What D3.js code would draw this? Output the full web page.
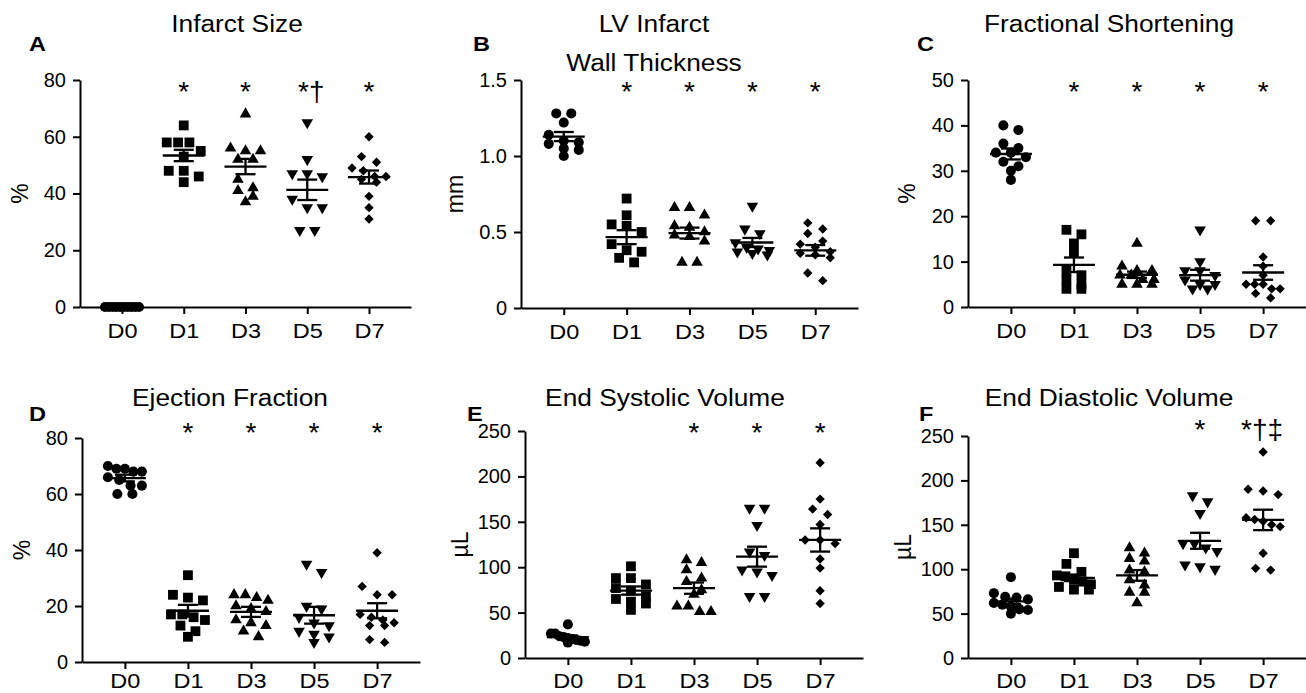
<!DOCTYPE html>
<html>
<head>
<meta charset="utf-8">
<script src="https://cdn.jsdelivr.net/npm/d3@7"></script>
<style>
  body { margin: 0; background: #fff; }
  svg text { font-family: "Liberation Sans", Arial, Helvetica, sans-serif; fill: #000; }
</style>
</head>
<body>
<svg id="chart" width="1306" height="693"></svg>
<script>
const categories = ['D0', 'D1', 'D3', 'D5', 'D7'];

// A: infarct size (%)
const infarctValues = [
  [0, 0, 0, 0, 0, 0, 0, 0, 0, 0],
  [64, 58, 58, 58, 55, 53, 48, 48, 46, 44],
  [68, 56, 55, 55, 52, 52, 45, 42, 41, 39, 37],
  [65, 52, 47, 47, 46, 38, 35, 35, 27, 27],
  [60, 53, 51, 49, 48, 46, 46, 45, 44, 39, 35, 31],
];
const infarctMean = [0, 53.4, 49.5, 41.3, 45.8];
const infarctSem = [0, 2.0, 2.7, 3.6, 2.3];
const infarctMarks = ['', '*', '*', '*†', '*'];

// B: LV infarct wall thickness (mm)
const wallValues = [
  [1.28, 1.28, 1.22, 1.14, 1.10, 1.09, 1.08, 1.05, 1.04, 1.00],
  [0.72, 0.61, 0.55, 0.54, 0.50, 0.42, 0.38, 0.37, 0.33, 0.30],
  [0.66, 0.66, 0.61, 0.54, 0.53, 0.50, 0.48, 0.47, 0.44, 0.30, 0.30],
  [0.67, 0.52, 0.49, 0.43, 0.40, 0.39, 0.38, 0.37, 0.36, 0.35],
  [0.56, 0.52, 0.49, 0.44, 0.42, 0.40, 0.37, 0.36, 0.35, 0.33, 0.23, 0.18],
];
const wallMean = [1.128, 0.466, 0.493, 0.431, 0.379];
const wallSem = [0.03, 0.046, 0.036, 0.03, 0.035];
const wallMarks = ['', '*', '*', '*', '*'];

// C: fractional shortening (%)
const fsValues = [
  [40, 39, 36, 35, 34, 34, 33, 32, 31, 30, 28],
  [17, 16, 14, 12, 8, 7, 6, 5, 4, 4],
  [14, 9, 8, 8, 7, 7, 6, 6, 5, 5, 5],
  [17, 10, 8, 8, 7, 6, 5, 5, 4, 4],
  [19, 19, 11, 9, 7, 5, 5, 5, 4, 4, 3, 2],
];
const fsMean = [33.7, 9.3, 7.1, 7.0, 7.6];
const fsSem = [1.2, 1.6, 0.7, 1.2, 1.6];
const fsMarks = ['', '*', '*', '*', '*'];

// D: ejection fraction (%)
const efValues = [
  [70, 69, 69, 68, 68, 66, 65, 63, 63, 60, 60],
  [31, 24, 23, 22, 17, 17, 16, 15, 13, 11, 9],
  [24, 24, 23, 22, 20, 19, 18, 15, 14, 13, 11, 9],
  [35, 32, 20, 19, 16, 14, 13, 11, 10, 9, 7],
  [39, 27, 24, 24, 17, 16, 15, 14, 13, 13, 8, 7],
];
const efMean = [65.7, 18.3, 17.9, 16.7, 18.3];
const efSem = [1.2, 2.1, 1.8, 3.0, 2.7];
const efMarks = ['', '*', '*', '*', '*'];

// E: end systolic volume (µL)
const esvValues = [
  [37, 27, 27, 24, 23, 22, 21, 20, 19, 18, 17],
  [101, 88, 88, 81, 77, 74, 68, 65, 62, 60, 53],
  [108, 105, 97, 88, 84, 75, 70, 57, 57, 51, 51],
  [165, 165, 146, 117, 113, 97, 95, 91, 68, 68],
  [215, 175, 164, 158, 147, 130, 130, 126, 109, 99, 74, 60],
];
const esvMean = [23, 74.3, 76.9, 111.6, 130];
const esvSem = [1.8, 4.5, 6.2, 11, 12.8];
const esvMarks = ['', '', '*', '*', '*'];

// F: end diastolic volume (µL)
const edvValues = [
  [91, 73, 69, 68, 66, 62, 60, 58, 55, 54, 50],
  [118, 106, 97, 93, 92, 88, 86, 83, 80, 77, 77],
  [124, 118, 112, 109, 99, 97, 88, 82, 74, 74, 62],
  [183, 176, 163, 129, 129, 124, 120, 105, 103, 100],
  [232, 190, 188, 184, 158, 156, 154, 150, 148, 118, 101, 99],
];
const edvMean = [63.7, 90.3, 93, 132, 155.5];
const edvSem = [3, 3.7, 6, 9, 11.5];
const edvMarks = ['', '', '', '*', '*†‡'];

const fmtInt = d3.format('d');
const fmtWall = (d) => (d === 0 ? '0' : d3.format('.1f')(d));

// layout only: pixel frame for each small multiple
const panels = [
  { letter: 'A', title: ['Infarct Size'], unit: '%', values: infarctValues, mean: infarctMean, sem: infarctSem, marks: infarctMarks,
    ticks: [0, 20, 40, 60, 80], fmt: fmtInt, left: 80, right: 411, top: 80, bottom: 307, titleX: 237, titleY: [32], letterX: 29, letterY: 51, unitX: 20, starY: 101, xPad: 9 },
  { letter: 'B', title: ['LV Infarct', 'Wall Thickness'], unit: 'mm', values: wallValues, mean: wallMean, sem: wallSem, marks: wallMarks,
    ticks: [0, 0.5, 1.0, 1.5], fmt: fmtWall, left: 521, right: 858, top: 80, bottom: 308, titleX: 654, titleY: [32, 71], letterX: 473, letterY: 51, unitX: 455, starY: 101, xPad: 9 },
  { letter: 'C', title: ['Fractional Shortening'], unit: '%', values: fsValues, mean: fsMean, sem: fsSem, marks: fsMarks,
    ticks: [0, 10, 20, 30, 40, 50], fmt: fmtInt, left: 968, right: 1306, top: 80, bottom: 307, titleX: 1109, titleY: [32], letterX: 917, letterY: 51, unitX: 907, starY: 101, xPad: 9 },
  { letter: 'D', title: ['Ejection Fraction'], unit: '%', values: efValues, mean: efMean, sem: efSem, marks: efMarks,
    ticks: [0, 20, 40, 60, 80], fmt: fmtInt, left: 82, right: 420, top: 438, bottom: 662, titleX: 230, titleY: [406], letterX: 29, letterY: 421, unitX: 22, starY: 442, xPad: 4 },
  { letter: 'E', title: ['End Systolic Volume'], unit: 'µL', values: esvValues, mean: esvMean, sem: esvSem, marks: esvMarks,
    ticks: [0, 50, 100, 150, 200, 250], fmt: fmtInt, left: 525, right: 863, top: 431, bottom: 658, titleX: 665, titleY: [406], letterX: 467, letterY: 421, unitX: 460, starY: 442, xPad: 8 },
  { letter: 'F', title: ['End Diastolic Volume'], unit: 'µL', values: edvValues, mean: edvMean, sem: edvSem, marks: edvMarks,
    ticks: [0, 50, 100, 150, 200, 250], fmt: fmtInt, left: 968, right: 1306, top: 436, bottom: 658, titleX: 1109, titleY: [406], letterX: 919, letterY: 421, unitX: 903, starY: 439, xPad: 8 },
];

// the source figure is slightly wider than tall in its lettering
const STRETCH = 1.12;
const markShift = { 1: 0, 2: 4, 3: -1 };

// one marker per day, Prism style: circle, square, triangle, inverted triangle, diamond
const diamond = d3.symbolDiamond2 || d3.symbolDiamond;
const markers = [
  { type: d3.symbolCircle, size: 80, rotate: 0 },
  { type: d3.symbolSquare, size: 96, rotate: 0 },
  { type: d3.symbolTriangle, size: 58, rotate: 0 },
  { type: d3.symbolTriangle, size: 58, rotate: 180 },
  { type: diamond, size: 56, rotate: 0 },
];

const svg = d3.select('#chart');

// Points whose pixel heights are within one marker of each other share a row
// and are spread sideways around the column centre (roughly what Prism does).
function spreadGroup(vals, y, cx) {
  const pts = vals.slice().sort((a, b) => b - a).map((v) => ({ v, py: y(v) }));
  const rows = [];
  pts.forEach((p) => {
    const row = rows[rows.length - 1];
    if (row && p.py - row[0].py < 9) row.push(p);
    else rows.push([p]);
  });
  rows.forEach((row) => {
    const n = row.length;
    const step = n > 1 ? Math.min(15, 34 / (n - 1)) : 0;
    row.forEach((p, i) => { p.px = cx + (i - (n - 1) / 2) * step; });
  });
  return pts;
}

panels.forEach((p) => {
  const g = svg.append('g');
  const x = d3.scalePoint().domain(categories).range([p.left, p.right]).padding(0.68);
  const y = d3.scaleLinear().domain([0, p.ticks[p.ticks.length - 1]]).range([p.bottom, p.top]);

  const yAxis = g.append('g')
    .attr('transform', `translate(${p.left},0)`)
    .call(d3.axisLeft(y).tickValues(p.ticks).tickFormat(p.fmt).tickSize(7).tickPadding(7).tickSizeOuter(0));
  yAxis.selectAll('text').style('font-size', '20px');

  const xAxis = g.append('g')
    .attr('transform', `translate(0,${p.bottom})`)
    .call(d3.axisBottom(x).tickSize(7).tickPadding(p.xPad).tickSizeOuter(0));
  xAxis.selectAll('text').style('font-size', '21px').attr('transform', `scale(${STRETCH},1)`);

  g.selectAll('.domain, .tick line').attr('stroke', '#000').attr('stroke-width', 2);

  categories.forEach((cat, i) => {
    const m = markers[i];
    const sym = d3.symbol().type(m.type).size(m.size);
    const pts = spreadGroup(p.values[i], y, x(cat));
    g.append('g').selectAll('path')
      .data(pts)
      .join('path')
      .attr('d', sym)
      .attr('fill', '#000')
      .attr('transform', (d) => `translate(${d.px},${d.py})` + (m.rotate ? ` rotate(${m.rotate})` : ''));

    // mean line and SEM bar drawn over the dots
    const cx = x(cat);
    const mean = p.mean[i];
    const sem = p.sem[i];
    const bars = g.append('g').attr('stroke', '#000').attr('stroke-width', 2.3);
    bars.append('line').attr('x1', cx - 21).attr('x2', cx + 21).attr('y1', y(mean)).attr('y2', y(mean));
    if (sem > 0) {
      bars.append('line').attr('x1', cx).attr('x2', cx).attr('y1', y(mean + sem)).attr('y2', y(mean - sem));
      [mean + sem, mean - sem].forEach((v) => {
        bars.append('line').attr('x1', cx - 10).attr('x2', cx + 10).attr('y1', y(v)).attr('y2', y(v));
      });
    }

    if (p.marks[i]) {
      g.append('text')
        .attr('x', cx + markShift[p.marks[i].length])
        .attr('y', p.starY)
        .attr('text-anchor', 'middle')
        .style('font-size', '28px')
        .text(p.marks[i]);
    }
  });

  g.selectAll('.title-line')
    .data(p.title)
    .join('text')
    .attr('class', 'title-line')
    .attr('transform', (d, k) => `translate(${p.titleX},${p.titleY[k]}) scale(${STRETCH},1)`)
    .attr('text-anchor', 'middle')
    .style('font-size', '23.5px')
    .text((d) => d);

  g.append('text')
    .attr('transform', `translate(${p.letterX},${p.letterY}) scale(${STRETCH},1)`)
    .style('font-size', '21px')
    .style('font-weight', 'bold')
    .text(p.letter);

  g.append('text')
    .attr('transform', `translate(${p.unitX},${(p.top + p.bottom) / 2}) rotate(-90)`)
    .attr('text-anchor', 'middle')
    .attr('dominant-baseline', 'central')
    .style('font-size', '23px')
    .text(p.unit);
});
</script>
</body>
</html>
